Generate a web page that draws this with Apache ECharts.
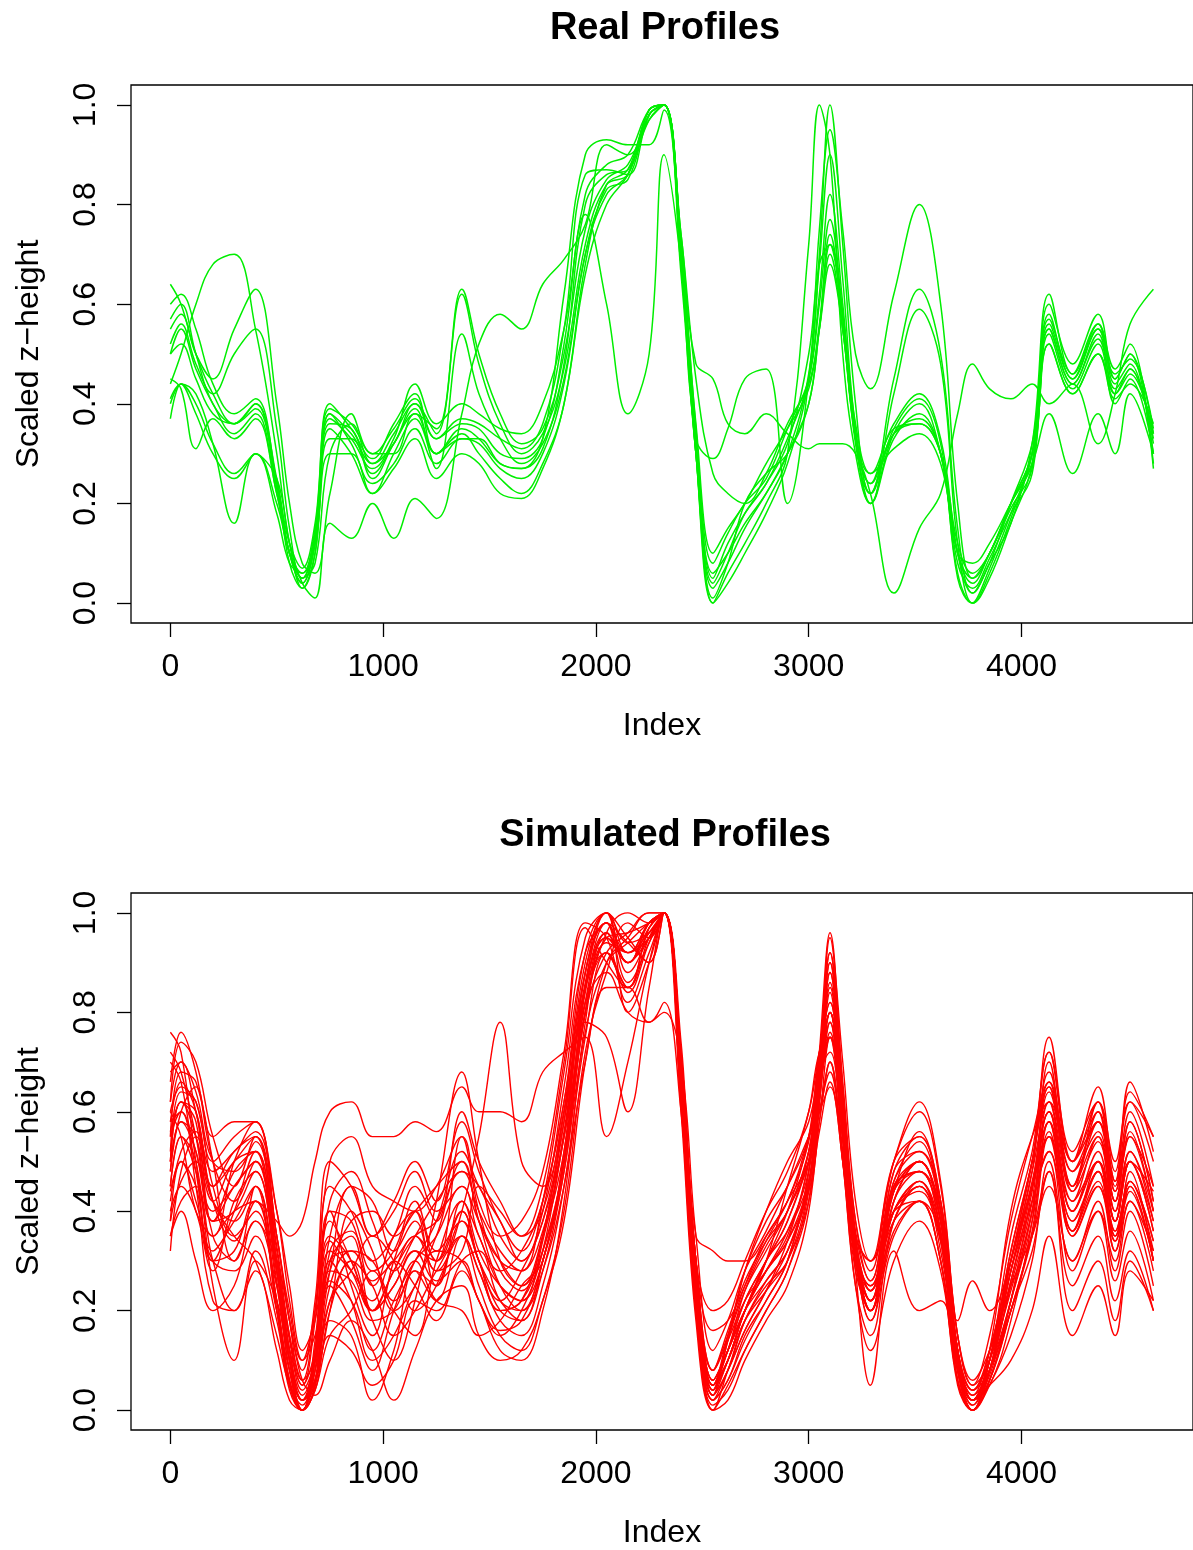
<!DOCTYPE html>
<html>
<head>
<meta charset="utf-8">
<script src="https://cdn.jsdelivr.net/npm/echarts@6/dist/echarts.min.js"></script>
<style>
  html, body { margin: 0; padding: 0; background: #fff; }
  #main { width: 1193px; height: 1550px; }
</style>
</head>
<body>
<div id="main"></div>
<script>
// shared index positions (x) for every profile
var idx = [0,50,120,200,300,400,500,560,620,680, 750,850,950,1050,1150,1250,1370,1450,1550,1650,
  1750,1850,1950,2050,2150,2250,2320,2400,2470,2550, 2620,2700,2800,2900,3000,3050,3100,3160,3220,3290,
  3400,3520,3620,3700,3770,3850,3950,4050,4130,4240, 4360,4440,4510,4620];

var xTicks = [0, 1000, 2000, 3000, 4000];
var yTicks = [0, 0.2, 0.4, 0.6, 0.8, 1.0];

// real profiles (green)
var real01 = [0.64,0.6,0.5,0.42,0.36,0.4,0.25,0.1,0.04,0.12, 0.38,0.34,0.28,0.34,0.4,0.33,0.36,0.35,0.3,0.29, 0.33,0.52,0.82,0.88,0.9,0.99,1.0,0.72,0.35,0.0, 0.06,0.12,0.2,0.3,0.72,1.0,0.9,0.5,0.3,0.2, 0.33,0.38,0.3,0.06,0.0,0.06,0.17,0.3,0.57,0.46, 0.56,0.44,0.48,0.3];
var real02 = [0.6,0.62,0.55,0.44,0.38,0.41,0.24,0.08,0.03,0.1, 0.36,0.35,0.26,0.32,0.39,0.3,0.33,0.33,0.28,0.27, 0.31,0.48,0.8,0.86,0.87,0.99,1.0,0.68,0.3,0.0, 0.04,0.1,0.18,0.28,0.45,0.7,1.0,0.72,0.4,0.22, 0.35,0.41,0.32,0.05,0.0,0.05,0.16,0.28,0.6,0.48, 0.58,0.45,0.5,0.28];
var real03 = [0.55,0.58,0.5,0.45,0.55,0.63,0.4,0.2,0.08,0.06, 0.22,0.38,0.3,0.3,0.38,0.35,0.63,0.5,0.38,0.32, 0.35,0.5,0.75,0.85,0.88,0.98,1.0,0.66,0.3,0.03, 0.08,0.15,0.22,0.3,0.46,0.68,0.9,0.65,0.35,0.22, 0.45,0.63,0.5,0.15,0.02,0.08,0.2,0.32,0.55,0.44, 0.53,0.43,0.47,0.32];
var real04 = [0.52,0.56,0.48,0.42,0.5,0.55,0.35,0.15,0.05,0.08, 0.3,0.36,0.28,0.32,0.4,0.34,0.62,0.48,0.36,0.3, 0.34,0.47,0.72,0.84,0.86,0.99,1.0,0.7,0.32,0.05, 0.12,0.18,0.24,0.33,0.45,0.62,0.82,0.6,0.33,0.2, 0.42,0.59,0.48,0.12,0.0,0.07,0.18,0.3,0.58,0.45, 0.55,0.46,0.49,0.35];
var real05 = [0.45,0.43,0.31,0.37,0.33,0.37,0.22,0.1,0.04,0.12, 0.35,0.3,0.22,0.3,0.37,0.27,0.54,0.42,0.33,0.28, 0.32,0.45,0.7,0.82,0.86,0.98,1.0,0.72,0.34,0.08, 0.14,0.2,0.25,0.35,0.45,0.6,0.77,0.58,0.32,0.22, 0.34,0.37,0.3,0.08,0.03,0.09,0.18,0.26,0.55,0.44, 0.54,0.42,0.47,0.33];
var real06 = [0.4,0.44,0.4,0.32,0.26,0.3,0.2,0.1,0.05,0.14, 0.38,0.32,0.24,0.28,0.35,0.28,0.33,0.32,0.27,0.25, 0.3,0.44,0.7,0.83,0.85,0.98,1.0,0.72,0.36,0.1, 0.15,0.2,0.28,0.35,0.43,0.56,0.74,0.57,0.34,0.24, 0.35,0.36,0.3,0.1,0.04,0.1,0.19,0.27,0.54,0.43, 0.52,0.4,0.45,0.3];
var real07 = [0.37,0.44,0.38,0.3,0.25,0.3,0.18,0.08,0.06,0.12, 0.3,0.3,0.22,0.27,0.33,0.25,0.3,0.28,0.22,0.21, 0.27,0.4,0.66,0.8,0.86,0.97,1.0,0.74,0.45,0.26, 0.22,0.2,0.26,0.36,0.44,0.55,0.68,0.55,0.34,0.26, 0.31,0.34,0.28,0.1,0.05,0.1,0.2,0.28,0.52,0.42, 0.5,0.42,0.46,0.34];
var real08 = [0.44,0.5,0.6,0.68,0.7,0.55,0.3,0.12,0.03,0.1, 0.33,0.33,0.25,0.32,0.38,0.3,0.35,0.33,0.28,0.27, 0.33,0.62,0.9,0.93,0.92,0.92,0.99,0.7,0.3,0.01, 0.08,0.2,0.26,0.3,0.4,0.55,0.72,0.58,0.36,0.26, 0.36,0.42,0.33,0.1,0.02,0.08,0.16,0.32,0.62,0.46, 0.56,0.47,0.52,0.27];
var real09 = [0.41,0.44,0.42,0.32,0.16,0.3,0.25,0.12,0.04,0.01, 0.16,0.13,0.2,0.13,0.21,0.17,0.38,0.52,0.58,0.55, 0.64,0.69,0.76,0.92,0.9,0.97,1.0,0.68,0.3,0.04, 0.1,0.18,0.24,0.32,0.5,0.68,0.72,0.55,0.33,0.2, 0.34,0.4,0.3,0.1,0.08,0.12,0.2,0.28,0.38,0.26, 0.38,0.3,0.42,0.3];
var real10 = [0.5,0.55,0.47,0.4,0.34,0.38,0.22,0.1,0.05,0.13, 0.37,0.33,0.27,0.33,0.44,0.36,0.4,0.38,0.35,0.34, 0.4,0.55,0.78,0.6,0.38,0.5,0.9,0.68,0.32,0.06, 0.1,0.16,0.22,0.3,0.4,0.55,0.7,0.55,0.33,0.24, 0.34,0.36,0.3,0.12,0.06,0.1,0.2,0.3,0.52,0.42, 0.5,0.41,0.44,0.36];
var real11 = [0.57,0.6,0.5,0.4,0.36,0.4,0.23,0.1,0.06,0.15, 0.39,0.36,0.3,0.35,0.41,0.33,0.37,0.36,0.33,0.31, 0.36,0.55,0.86,0.87,0.86,0.98,1.0,0.74,0.48,0.45, 0.36,0.34,0.38,0.34,0.31,0.32,0.32,0.32,0.3,0.22, 0.02,0.15,0.22,0.38,0.48,0.43,0.41,0.44,0.4,0.44, 0.32,0.42,0.56,0.63];
var real12 = [0.5,0.52,0.45,0.38,0.36,0.39,0.24,0.12,0.07,0.16, 0.4,0.35,0.29,0.36,0.42,0.3,0.34,0.3,0.25,0.22, 0.28,0.4,0.68,0.84,0.87,0.99,1.0,0.7,0.33,0.29, 0.35,0.45,0.47,0.2,0.45,0.75,0.95,0.75,0.5,0.43, 0.62,0.8,0.6,0.2,0.05,0.1,0.2,0.3,0.56,0.45, 0.55,0.45,0.5,0.34];

// simulated profiles (red)
var sim01 = [0.68,0.7,0.6,0.45,0.5,0.55,0.3,0.1,0.0,0.08, 0.3,0.35,0.2,0.28,0.35,0.3,0.55,0.4,0.28,0.24, 0.35,0.6,0.9,1.0,0.88,0.95,1.0,0.62,0.2,0.0, 0.08,0.18,0.25,0.3,0.45,0.68,0.92,0.62,0.33,0.22, 0.45,0.5,0.38,0.08,0.0,0.08,0.25,0.42,0.7,0.45, 0.6,0.42,0.55,0.4];
var sim02 = [0.5,0.62,0.58,0.35,0.3,0.45,0.2,0.05,0.0,0.12, 0.4,0.25,0.15,0.3,0.4,0.25,0.38,0.3,0.2,0.18, 0.3,0.5,0.82,0.95,0.92,0.98,1.0,0.7,0.28,0.04, 0.12,0.22,0.3,0.38,0.52,0.7,0.8,0.55,0.3,0.2, 0.4,0.45,0.32,0.1,0.03,0.12,0.3,0.45,0.55,0.35, 0.45,0.35,0.48,0.3];
var sim03 = [0.76,0.72,0.5,0.3,0.4,0.52,0.28,0.12,0.02,0.06, 0.2,0.4,0.32,0.2,0.25,0.35,0.48,0.45,0.35,0.3, 0.4,0.65,0.92,0.98,0.8,0.9,1.0,0.66,0.22,0.02, 0.06,0.15,0.22,0.3,0.48,0.72,0.96,0.65,0.38,0.28, 0.5,0.55,0.4,0.12,0.02,0.05,0.18,0.38,0.65,0.5, 0.62,0.45,0.6,0.45];
var sim04 = [0.32,0.48,0.55,0.42,0.35,0.3,0.15,0.05,0.01,0.1, 0.3,0.22,0.1,0.15,0.25,0.32,0.3,0.22,0.15,0.2, 0.32,0.55,0.78,0.75,0.6,0.85,1.0,0.72,0.3,0.08, 0.15,0.25,0.35,0.42,0.55,0.65,0.75,0.55,0.32,0.25, 0.38,0.42,0.3,0.08,0.0,0.1,0.28,0.45,0.55,0.38, 0.48,0.32,0.42,0.28];
var sim05 = [0.6,0.65,0.62,0.5,0.55,0.58,0.35,0.2,0.1,0.15, 0.28,0.38,0.4,0.35,0.4,0.45,0.5,0.38,0.3,0.28, 0.42,0.68,0.95,1.0,0.92,0.96,1.0,0.64,0.2,0.0, 0.05,0.12,0.2,0.28,0.42,0.65,0.9,0.62,0.36,0.26, 0.45,0.48,0.36,0.12,0.04,0.08,0.22,0.4,0.62,0.42, 0.55,0.4,0.52,0.38];
var sim06 = [0.45,0.55,0.5,0.25,0.1,0.3,0.22,0.1,0.02,0.05, 0.2,0.3,0.25,0.15,0.2,0.28,0.35,0.28,0.18,0.15, 0.25,0.45,0.75,0.92,0.85,0.97,1.0,0.7,0.26,0.05, 0.1,0.2,0.28,0.35,0.5,0.68,0.85,0.6,0.32,0.18, 0.35,0.42,0.3,0.05,0.0,0.05,0.15,0.3,0.5,0.3, 0.4,0.3,0.42,0.32];
var sim07 = [0.55,0.68,0.66,0.5,0.3,0.38,0.25,0.12,0.05,0.18, 0.45,0.4,0.3,0.35,0.45,0.38,0.6,0.5,0.42,0.35, 0.45,0.7,0.97,0.9,0.85,0.95,1.0,0.68,0.25,0.03, 0.1,0.2,0.3,0.4,0.55,0.72,0.82,0.58,0.3,0.22, 0.42,0.5,0.38,0.12,0.02,0.1,0.32,0.5,0.68,0.48, 0.58,0.44,0.58,0.42];
var sim08 = [0.4,0.45,0.4,0.28,0.42,0.48,0.26,0.08,0.0,0.04, 0.15,0.12,0.05,0.1,0.22,0.2,0.3,0.32,0.22,0.2, 0.28,0.45,0.7,0.85,0.85,0.78,0.8,0.7,0.35,0.12, 0.18,0.28,0.36,0.45,0.55,0.6,0.65,0.5,0.3,0.2, 0.48,0.52,0.42,0.15,0.06,0.12,0.25,0.35,0.45,0.3, 0.42,0.28,0.4,0.25];
var sim09 = [0.62,0.74,0.7,0.55,0.45,0.55,0.33,0.15,0.05,0.12, 0.35,0.45,0.35,0.4,0.48,0.4,0.45,0.35,0.28,0.32, 0.42,0.62,0.88,1.0,0.95,0.9,1.0,0.6,0.18,0.0, 0.02,0.1,0.18,0.25,0.4,0.62,0.95,0.7,0.42,0.3, 0.5,0.6,0.45,0.15,0.05,0.1,0.3,0.48,0.75,0.5, 0.65,0.48,0.62,0.5];
var sim10 = [0.35,0.4,0.3,0.2,0.25,0.38,0.3,0.18,0.06,0.03, 0.1,0.18,0.12,0.02,0.12,0.22,0.25,0.15,0.1,0.12, 0.22,0.4,0.72,0.88,0.98,0.95,1.0,0.72,0.3,0.06, 0.12,0.22,0.3,0.38,0.5,0.6,0.7,0.5,0.25,0.12, 0.3,0.38,0.28,0.06,0.0,0.06,0.2,0.32,0.48,0.25, 0.35,0.22,0.32,0.2];
var sim11 = [0.5,0.58,0.52,0.38,0.48,0.52,0.3,0.15,0.06,0.2, 0.5,0.55,0.45,0.42,0.4,0.45,0.55,0.42,0.35,0.38, 0.48,0.72,0.98,0.95,0.82,0.92,1.0,0.65,0.24,0.03, 0.14,0.24,0.32,0.4,0.5,0.66,0.78,0.56,0.32,0.24, 0.44,0.5,0.38,0.1,0.02,0.08,0.28,0.46,0.6,0.4, 0.52,0.38,0.5,0.36];
var sim12 = [0.7,0.66,0.48,0.32,0.38,0.45,0.22,0.06,0.0,0.1, 0.32,0.28,0.22,0.3,0.25,0.18,0.28,0.22,0.12,0.1, 0.2,0.42,0.78,0.96,0.9,0.98,1.0,0.68,0.26,0.04, 0.1,0.2,0.28,0.36,0.48,0.66,0.88,0.64,0.35,0.2, 0.38,0.46,0.34,0.06,0.0,0.06,0.2,0.36,0.58,0.36, 0.5,0.35,0.46,0.32];
var sim13 = [0.42,0.52,0.56,0.48,0.52,0.56,0.4,0.25,0.12,0.18, 0.35,0.3,0.2,0.25,0.32,0.3,0.4,0.3,0.22,0.28, 0.38,0.58,0.85,0.92,0.85,0.97,1.0,0.68,0.3,0.16, 0.18,0.25,0.34,0.42,0.54,0.7,0.8,0.55,0.3,0.18, 0.42,0.5,0.4,0.12,0.04,0.12,0.3,0.5,0.65,0.45, 0.55,0.42,0.55,0.45];
var sim14 = [0.58,0.6,0.45,0.22,0.2,0.32,0.18,0.04,0.0,0.05, 0.25,0.32,0.3,0.22,0.3,0.38,0.52,0.45,0.38,0.3, 0.38,0.55,0.8,0.92,0.96,1.0,1.0,0.7,0.28,0.05, 0.12,0.2,0.26,0.32,0.45,0.62,0.84,0.6,0.34,0.24, 0.46,0.52,0.4,0.1,0.01,0.07,0.22,0.4,0.6,0.42, 0.5,0.38,0.5,0.38];
var sim15 = [0.48,0.6,0.65,0.55,0.58,0.58,0.35,0.18,0.06,0.1, 0.28,0.26,0.18,0.2,0.28,0.25,0.42,0.35,0.25,0.22, 0.3,0.5,0.85,1.0,0.9,0.95,1.0,0.62,0.22,0.02, 0.08,0.16,0.24,0.32,0.46,0.66,0.86,0.6,0.3,0.2, 0.36,0.42,0.3,0.06,0.0,0.1,0.35,0.52,0.72,0.52, 0.62,0.5,0.62,0.55];
var sim16 = [0.38,0.5,0.45,0.3,0.32,0.42,0.38,0.35,0.38,0.5, 0.6,0.62,0.55,0.55,0.58,0.56,0.65,0.6,0.6,0.58, 0.68,0.72,0.75,0.55,0.7,0.9,1.0,0.66,0.24,0.05, 0.15,0.28,0.38,0.45,0.55,0.68,0.72,0.52,0.3,0.2, 0.45,0.48,0.4,0.12,0.02,0.1,0.28,0.45,0.58,0.4, 0.5,0.36,0.46,0.34];
var sim17 = [0.52,0.64,0.62,0.45,0.35,0.4,0.22,0.05,0.0,0.14, 0.38,0.3,0.18,0.1,0.22,0.42,0.68,0.5,0.3,0.25, 0.32,0.5,0.8,0.96,1.0,0.98,1.0,0.7,0.27,0.05, 0.12,0.24,0.33,0.4,0.52,0.68,0.8,0.56,0.3,0.22, 0.44,0.5,0.38,0.1,0.02,0.08,0.2,0.35,0.55,0.36, 0.48,0.34,0.45,0.3];
var sim18 = [0.44,0.5,0.42,0.3,0.28,0.35,0.2,0.08,0.02,0.08, 0.22,0.28,0.35,0.3,0.2,0.25,0.4,0.55,0.78,0.5, 0.45,0.6,0.85,0.98,0.86,0.94,1.0,0.64,0.22,0.03, 0.08,0.16,0.24,0.34,0.5,0.7,0.9,0.64,0.35,0.24, 0.4,0.46,0.34,0.08,0.01,0.12,0.4,0.55,0.62,0.48, 0.56,0.4,0.52,0.4];
var sim19 = [0.66,0.76,0.68,0.5,0.42,0.5,0.28,0.1,0.02,0.06, 0.18,0.15,0.02,0.12,0.28,0.22,0.35,0.25,0.15,0.12, 0.22,0.38,0.7,0.9,0.95,1.0,1.0,0.7,0.3,0.06, 0.12,0.2,0.3,0.36,0.46,0.58,0.7,0.5,0.25,0.15, 0.38,0.45,0.35,0.1,0.02,0.1,0.26,0.42,0.52,0.28, 0.4,0.26,0.36,0.22];
var sim20 = [0.55,0.6,0.52,0.38,0.45,0.5,0.3,0.14,0.04,0.1, 0.28,0.45,0.42,0.32,0.38,0.28,0.32,0.45,0.4,0.35, 0.4,0.6,0.82,0.88,0.8,0.78,0.82,0.6,0.25,0.08, 0.14,0.22,0.28,0.34,0.44,0.56,0.66,0.5,0.28,0.2, 0.42,0.48,0.38,0.12,0.04,0.1,0.24,0.4,0.58,0.38, 0.48,0.36,0.46,0.34];
var sim21 = [0.35,0.42,0.45,0.3,0.2,0.28,0.12,0.02,0.0,0.05, 0.25,0.18,0.08,0.2,0.3,0.22,0.2,0.15,0.18,0.25, 0.3,0.52,0.88,0.98,0.9,0.96,1.0,0.66,0.24,0.03, 0.08,0.18,0.26,0.32,0.45,0.62,0.78,0.55,0.28,0.05, 0.32,0.2,0.22,0.08,0.02,0.06,0.2,0.35,0.48,0.2, 0.3,0.18,0.3,0.2];
var sim22 = [0.6,0.55,0.4,0.35,0.5,0.58,0.4,0.22,0.1,0.2, 0.42,0.48,0.38,0.28,0.35,0.42,0.48,0.4,0.32,0.28, 0.36,0.55,0.85,0.95,0.9,0.98,1.0,0.68,0.3,0.2, 0.22,0.3,0.4,0.48,0.6,0.72,0.82,0.6,0.35,0.3, 0.5,0.62,0.46,0.15,0.05,0.15,0.38,0.55,0.66,0.5, 0.58,0.46,0.64,0.55];
var sim23 = [0.45,0.55,0.48,0.35,0.4,0.42,0.2,0.05,0.0,0.04, 0.15,0.2,0.28,0.2,0.15,0.3,0.42,0.32,0.25,0.22, 0.34,0.56,0.86,0.98,0.94,0.9,1.0,0.66,0.24,0.04, 0.1,0.2,0.3,0.45,0.6,0.72,0.75,0.55,0.3,0.22, 0.4,0.44,0.34,0.18,0.26,0.2,0.3,0.48,0.62,0.44, 0.54,0.38,0.5,0.36];
var sim24 = [0.72,0.68,0.55,0.4,0.45,0.5,0.3,0.12,0.02,0.06, 0.22,0.3,0.2,0.28,0.35,0.38,0.5,0.38,0.25,0.2, 0.3,0.48,0.8,0.94,0.92,0.98,1.0,0.7,0.28,0.05, 0.1,0.18,0.24,0.3,0.42,0.58,0.75,0.55,0.3,0.24, 0.44,0.56,0.42,0.12,0.02,0.05,0.1,0.2,0.35,0.15, 0.25,0.15,0.28,0.22];
var sim25 = [0.5,0.62,0.6,0.45,0.52,0.55,0.35,0.18,0.08,0.22, 0.5,0.45,0.35,0.42,0.5,0.42,0.58,0.48,0.38,0.32, 0.42,0.62,0.92,1.0,0.94,0.96,1.0,0.62,0.2,0.02, 0.06,0.14,0.22,0.3,0.48,0.7,0.92,0.66,0.38,0.26, 0.46,0.54,0.4,0.1,0.0,0.08,0.3,0.5,0.72,0.5, 0.6,0.44,0.58,0.42];
var sim26 = [0.56,0.62,0.55,0.42,0.38,0.45,0.25,0.08,0.0,0.08, 0.32,0.36,0.28,0.32,0.42,0.32,0.38,0.3,0.22,0.18, 0.28,0.48,0.76,0.9,0.94,0.98,1.0,0.74,0.35,0.32, 0.3,0.3,0.35,0.42,0.5,0.6,0.68,0.52,0.35,0.3, 0.4,0.42,0.35,0.1,0.02,0.1,0.28,0.42,0.52,0.35, 0.45,0.32,0.45,0.3];
var sim27 = [0.62,0.7,0.64,0.5,0.48,0.54,0.32,0.12,0.03,0.1, 0.3,0.32,0.25,0.35,0.4,0.3,0.4,0.3,0.2,0.22, 0.35,0.58,0.88,0.98,0.92,0.95,1.0,0.66,0.22,0.01, 0.04,0.12,0.2,0.28,0.44,0.66,0.88,0.62,0.34,0.22, 0.4,0.46,0.36,0.1,0.02,0.1,0.32,0.5,0.66,0.45, 0.58,0.42,0.56,0.4];
var sim28 = [0.38,0.46,0.5,0.42,0.5,0.52,0.28,0.1,0.0,0.06, 0.26,0.22,0.12,0.22,0.3,0.35,0.45,0.38,0.3,0.25, 0.35,0.52,0.82,0.92,0.84,0.94,1.0,0.7,0.3,0.08, 0.16,0.26,0.34,0.4,0.52,0.64,0.76,0.55,0.32,0.22, 0.44,0.48,0.36,0.08,0.0,0.06,0.22,0.44,0.6,0.4, 0.5,0.38,0.5,0.44];
var sim29 = [0.48,0.58,0.55,0.38,0.4,0.48,0.28,0.1,0.02,0.12, 0.4,0.38,0.26,0.3,0.35,0.28,0.35,0.28,0.2,0.22, 0.32,0.5,0.8,0.95,0.96,0.98,1.0,0.68,0.26,0.04, 0.14,0.28,0.4,0.5,0.58,0.7,0.8,0.58,0.3,0.25, 0.48,0.55,0.42,0.12,0.03,0.08,0.26,0.45,0.64,0.44, 0.62,0.46,0.66,0.52];
var sim30 = [0.58,0.66,0.6,0.42,0.34,0.42,0.22,0.06,0.0,0.1, 0.34,0.28,0.2,0.25,0.32,0.26,0.3,0.22,0.16,0.18, 0.3,0.5,0.84,0.96,0.9,0.97,1.0,0.7,0.3,0.06, 0.12,0.2,0.28,0.34,0.46,0.62,0.8,0.58,0.32,0.2, 0.38,0.45,0.35,0.08,0.0,0.08,0.22,0.38,0.56,0.36, 0.46,0.34,0.44,0.3];

var realList = [real01, real02, real03, real04, real05, real06, real07, real08, real09, real10, real11, real12];
var simList = [sim01, sim02, sim03, sim04, sim05, sim06, sim07, sim08, sim09, sim10,
  sim11, sim12, sim13, sim14, sim15, sim16, sim17, sim18, sim19, sim20,
  sim21, sim22, sim23, sim24, sim25, sim26, sim27, sim28, sim29, sim30];

var FONT = "'Liberation Sans', Arial, Helvetica, sans-serif";

function toPairs(vals) {
  return idx.map(function (x, i) { return [x, vals[i]]; });
}

function makeX(gi) {
  return {
    type: 'value', gridIndex: gi, min: -185, max: 4806,
    name: 'Index', nameLocation: 'middle', nameGap: 87,
    nameTextStyle: { fontSize: 32, color: '#000', fontFamily: FONT },
    axisLine: { show: false, onZero: false },
    axisTick: { show: true, inside: false, length: 14, customValues: xTicks, lineStyle: { color: '#000', width: 1.3 } },
    axisLabel: { customValues: xTicks, margin: 28, fontSize: 32, color: '#000', fontFamily: FONT,
      formatter: function (v) { return String(v); } },
    splitLine: { show: false }
  };
}

function makeY(gi) {
  return {
    type: 'value', gridIndex: gi, min: -0.04, max: 1.04,
    name: 'Scaled z\u2212height', nameLocation: 'middle', nameGap: 86,
    nameTextStyle: { fontSize: 32, color: '#000', fontFamily: FONT },
    axisLine: { show: false, onZero: false },
    axisTick: { show: true, inside: false, length: 14, customValues: yTicks, lineStyle: { color: '#000', width: 1.3 } },
    axisLabel: { customValues: yTicks, margin: 29, rotate: 90, fontSize: 32, color: '#000', fontFamily: FONT,
      formatter: function (v) { return v.toFixed(1); } },
    splitLine: { show: false }
  };
}

var series = [];
realList.forEach(function (vals, k) {
  series.push({
    name: 'real' + (k + 1), type: 'line', xAxisIndex: 0, yAxisIndex: 0,
    data: toPairs(vals), smooth: 0.4, showSymbol: false, silent: true,
    lineStyle: { color: '#00ee00', width: 1.5 }
  });
});
simList.forEach(function (vals, k) {
  series.push({
    name: 'sim' + (k + 1), type: 'line', xAxisIndex: 1, yAxisIndex: 1,
    data: toPairs(vals), smooth: 0.4, showSymbol: false, silent: true,
    lineStyle: { color: '#ff0000', width: 1.4 }
  });
});

var chart = echarts.init(document.getElementById('main'));
chart.setOption({
  animation: false,
  backgroundColor: '#fff',
  textStyle: { fontFamily: FONT },
  graphic: [
    { type: 'text', x: 665, y: 29, style: { text: 'Real Profiles', font: 'bold 38px ' + FONT, fill: '#000', textAlign: 'center', textVerticalAlign: 'middle' } },
    { type: 'text', x: 665, y: 836, style: { text: 'Simulated Profiles', font: 'bold 38px ' + FONT, fill: '#000', textAlign: 'center', textVerticalAlign: 'middle' } }
  ],
  grid: [
    { left: 131, top: 85, width: 1068, height: 538, show: true, borderColor: '#000', borderWidth: 1.3, backgroundColor: 'transparent' },
    { left: 131, top: 893, width: 1068, height: 538, show: true, borderColor: '#000', borderWidth: 1.3, backgroundColor: 'transparent' }
  ],
  xAxis: [makeX(0), makeX(1)],
  yAxis: [makeY(0), makeY(1)],
  series: series
});
</script>
</body>
</html>
